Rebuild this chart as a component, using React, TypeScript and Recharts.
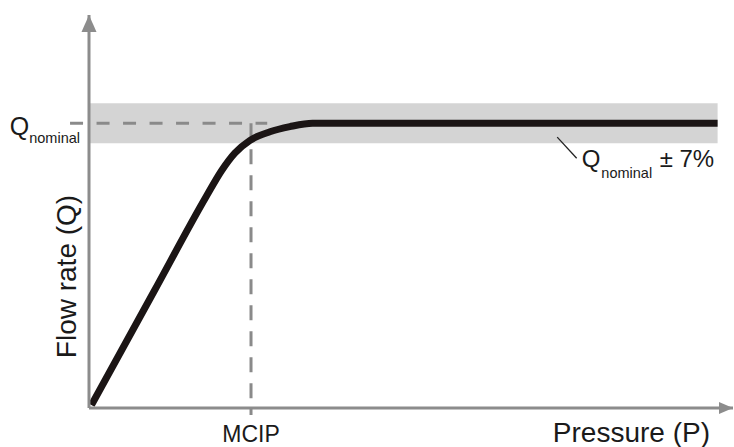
import React from 'react'
import {
  ComposedChart,
  Line,
  XAxis,
  YAxis,
  ReferenceArea,
  ReferenceLine,
  ReferenceDot,
  Label,
} from 'recharts'

// Flow rate vs pressure: linear rise, then flat at Q nominal after the MCIP.
// Units: Q nominal = 100, MCIP = 100 (relative).
const PRESSURE = [1.5, 40, 72, 82, 90, 99.4, 111.7, 124, 138, 388]
const FLOW = [1, 40.8, 73.9, 83.5, 89.5, 94, 97, 98.8, 100, 100]

const Q_NOMINAL = 100
const TOLERANCE = 0.07 // ± 7%
const MCIP = 100
const X_MAX = 397.5
const Y_MAX = 138
const BAND_END = 388
const DASH_START = -11.7
const DASH_END = 110
const NOTE_FROM = { x: 289, y: 95.1 }
const NOTE_TO = { x: 301, y: 87.7 }

const data = PRESSURE.map((p, i) => ({ p, q: FLOW[i] }))

const AXIS = '#8c8c8c'
const DASH = '#8a8a8a'
const INK = '#1a1a1a'
const CURVE = '#1b1515'

function ArrowUp(props: any) {
  const { cx, cy } = props
  return <polygon points={`${cx},${cy} ${cx - 7.5},${cy + 17} ${cx + 7.5},${cy + 17}`} fill={AXIS} />
}

function ArrowRight(props: any) {
  const { cx, cy } = props
  return <polygon points={`${cx},${cy} ${cx - 14},${cy - 6} ${cx - 14},${cy + 6}`} fill={AXIS} />
}

function QTick(props: any) {
  const { x, y } = props
  return (
    <text x={x} y={y + 12} textAnchor="end" fill={INK}>
      <tspan fontSize={25}>Q</tspan>
      <tspan fontSize={14.5} dy={8}>nominal</tspan>
    </text>
  )
}

function ToleranceNote(props: any) {
  const { cx, cy } = props
  return (
    <text x={cx + 5} y={cy + 9} fill={INK}>
      <tspan fontSize={24}>Q</tspan>
      <tspan fontSize={14.5} dx={1} dy={11}>nominal</tspan>
      <tspan fontSize={24} x={cx + 83} dy={-11}>± {Math.round(TOLERANCE * 100)}%</tspan>
    </text>
  )
}

export default function App() {
  return (
    <div
      style={{
        position: 'absolute',
        left: 0,
        top: 0,
        width: 734,
        height: 447,
        background: '#fff',
        fontFamily: '"Liberation Sans", Arial, sans-serif',
      }}
    >
      <ComposedChart width={734} height={447} data={data} margin={{ top: 15, right: 1, bottom: 0, left: 0 }}>
        <XAxis
          dataKey="p"
          type="number"
          domain={[0, X_MAX]}
          allowDataOverflow
          ticks={[MCIP]}
          tickFormatter={() => 'MCIP'}
          tickSize={7}
          tickMargin={11}
          height={39}
          axisLine={{ stroke: AXIS, strokeWidth: 3 }}
          tickLine={{ stroke: DASH, strokeWidth: 3 }}
          tick={{ fontSize: 23, fill: INK }}
        >
          <Label
            content={({ viewBox }: any) => (
              <text x={viewBox.x + viewBox.width - 23} y={viewBox.y + 34} textAnchor="end" fontSize={28} fill={INK}>
                Pressure (P)
              </text>
            )}
          />
        </XAxis>
        <YAxis
          type="number"
          domain={[0, Y_MAX]}
          allowDataOverflow
          ticks={[Q_NOMINAL]}
          tick={<QTick />}
          tickLine={false}
          tickSize={0}
          tickMargin={9}
          width={89}
          axisLine={{ stroke: AXIS, strokeWidth: 3 }}
        >
          <Label
            content={({ viewBox }: any) => {
              const cx = viewBox.x + 76
              const cy = viewBox.y + 261.5
              return (
                <text x={cx} y={cy} transform={`rotate(-90, ${cx}, ${cy})`} textAnchor="middle" fontSize={28} fill={INK}>
                  Flow rate (Q)
                </text>
              )
            }}
          />
        </YAxis>

        <ReferenceArea
          x1={0}
          x2={BAND_END}
          y1={Q_NOMINAL * (1 - TOLERANCE)}
          y2={Q_NOMINAL * (1 + TOLERANCE)}
          fill="#d4d4d4"
          fillOpacity={1}
          stroke="none"
        />
        <ReferenceLine
          segment={[
            { x: DASH_START, y: Q_NOMINAL },
            { x: DASH_END, y: Q_NOMINAL },
          ]}
          stroke={DASH}
          strokeWidth={3}
          strokeDasharray="13 13.5"
          ifOverflow="visible"
        />
        <ReferenceLine
          segment={[
            { x: MCIP, y: Q_NOMINAL },
            { x: MCIP, y: 0 },
          ]}
          stroke={DASH}
          strokeWidth={3}
          strokeDasharray="15 11"
          ifOverflow="visible"
        />
        <ReferenceLine
          segment={[NOTE_FROM, NOTE_TO]}
          stroke="#222"
          strokeWidth={1.3}
          ifOverflow="visible"
        />

        <Line
          type="monotone"
          dataKey="q"
          stroke={CURVE}
          strokeWidth={7}
          dot={false}
          activeDot={false}
          isAnimationActive={false}
        />

        <ReferenceDot x={0} y={Y_MAX} r={0} shape={ArrowUp} ifOverflow="visible" />
        <ReferenceDot x={X_MAX} y={0} r={0} shape={ArrowRight} ifOverflow="visible" />
        <ReferenceDot x={NOTE_TO.x} y={NOTE_TO.y} r={0} shape={ToleranceNote} ifOverflow="visible" />
      </ComposedChart>
    </div>
  )
}
